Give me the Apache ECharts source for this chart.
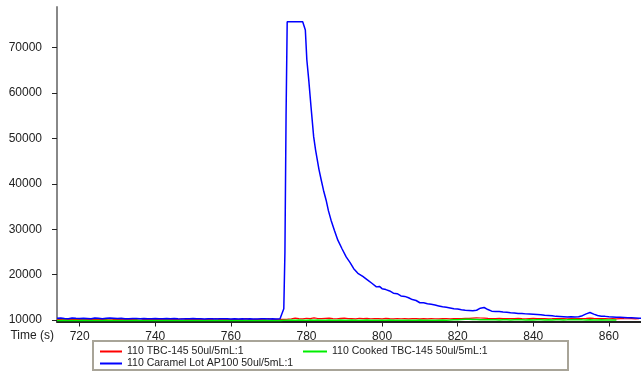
<!DOCTYPE html>
<html><head><meta charset="utf-8">
<script src="https://cdn.jsdelivr.net/npm/echarts@6/dist/echarts.min.js"></script>
<style>html,body{margin:0;padding:0;background:#fff}#c{width:641px;height:373px}</style>
</head><body><div id="c"></div>
<script>
var seriesNames = ['110 TBC-145 50ul/5mL:1', '110 Cooked TBC-145 50ul/5mL:1', '110 Caramel Lot AP100 50ul/5mL:1'];
var xTicks = [720, 740, 760, 780, 800, 820, 840, 860];
var yTicks = [10000, 20000, 30000, 40000, 50000, 60000, 70000];

var time = [714,715,716,717,718,719,720,721,722,723,724,725,726,727,728,729,730,731,732,733,734,735,736,737,738,739,740,741,742,743,744,745,746,747,748,749,750,751,752,753,754,755,756,757,758,759,760,761,762,763,764,765,766,767,768,769,770,771,772,773,774,775,776,777,778,779,780,781,782,783,784,785,786,787,788,789,790,791,792,793,794,795,796,797,798,799,800,801,802,803,804,805,806,807,808,809,810,811,812,813,814,815,816,817,818,819,820,821,822,823,824,825,826,827,828,829,830,831,832,833,834,835,836,837,838,839,840,841,842,843,844,845,846,847,848,849,850,851,852,853,854,855,856,857,858,859,860,861,862,863,864,865,866,867,868];

var redValues = [10100,10150,10080,10120,10200,10090,10110,10160,10070,10130,10180,10100,10090,10140,10250,10110,10080,10130,10100,10170,10090,10120,10300,10100,10140,10080,10110,10190,10090,10130,10150,10100,10080,10270,10120,10090,10140,10110,10180,10080,10130,10100,10320,10090,10140,10110,10080,10150,10100,10130,10290,10090,10120,10160,10100,10130,10310,10110,10150,10120,10140,10200,10280,10420,10300,10250,10380,10290,10450,10330,10300,10360,10420,10310,10280,10350,10400,10300,10330,10260,10380,10300,10350,10280,10330,10290,10250,10340,10300,10270,10330,10280,10300,10260,10310,10290,10250,10320,10270,10300,10280,10260,10310,10290,10270,10300,10330,10300,10350,10380,10420,10460,10440,10400,10360,10330,10310,10360,10300,10330,10290,10320,10350,10300,10280,10310,10340,10290,10300,10320,10280,10300,10330,10290,10310,10280,10320,10300,10290,10330,10360,10400,10350,10310,10290,10320,10280,10300,10270,10310,10290,10280,10300,10270,10290];

var greenValues = [9900,9880,9920,9890,9910,9870,9900,9930,9890,9880,9910,9900,9870,9920,9890,9900,9880,9910,9890,9870,9900,9920,9880,9890,9910,9870,9900,9890,9880,9920,9900,9870,9890,9910,9880,9900,9890,9870,9910,9900,9880,9890,9920,9870,9900,9890,9910,9880,9900,9870,9890,9910,9880,9900,9890,9920,9880,9900,9890,9910,9930,9950,9980,9960,10000,9970,9950,9990,9960,9980,9950,9970,10000,9960,9940,9980,9960,9950,9990,9960,9970,9940,9980,9960,9950,9970,9940,9960,9980,9950,9960,9940,9970,9950,9960,9940,9980,9950,9960,9970,9940,9960,9980,9970,10000,10050,10080,10120,10150,10170,10130,10100,10060,10040,10080,10030,10050,10020,10060,10040,10010,10050,10030,10060,10020,10040,10010,10030,10050,10020,10040,10000,10030,10050,10020,10040,10070,10100,10060,10030,10010,10040,10000,10020,10030,9990,10020,10000,10010];

var blueTime = [714,715,716,717,718,719,720,721,722,723,724,725,726,727,728,729,730,731,732,733,734,735,736,737,738,739,740,741,742,743,744,745,746,747,748,749,750,751,752,753,754,755,756,757,758,759,760,761,762,763,764,765,766,767,768,769,770,771,772,773,773.5,774,774.3,774.6,774.9,776,777,778,779,779.5,779.7,780.1,780.6,781.2,781.9,782.4,783.3,783.9,784.5,785.2,785.8,786.5,787.4,788.3,789.4,790.5,791.5,792.5,793.6,794.9,796.2,797.3,798.5,799.3,800,800.5,801,801.5,802,802.5,803,803.5,804,804.5,805,805.5,806,806.5,807,807.5,808,808.5,809,809.5,810,810.5,811,811.5,812,812.5,813,813.5,814,814.5,815,815.5,816,816.5,817,817.5,818,818.5,819,819.5,820,820.5,821,821.5,822,822.5,823,823.5,824,824.5,825,825.5,826,826.5,827,827.5,828,828.5,829,829.5,830,830.5,831,831.5,832,832.5,833,833.5,834,834.5,835,835.5,836,836.5,837,837.5,838,838.5,839,839.5,840,840.5,841,841.5,842,842.5,843,843.5,844,844.5,845,845.5,846,846.5,847,847.5,848,848.5,849,849.5,850,850.5,851,851.5,852,852.5,853,853.5,854,854.5,855,855.5,856,856.5,857,857.5,858,858.5,859,859.5,860,860.5,861,861.5,862,862.5,863,863.5,864,864.5,865,865.5,866,866.5,867,867.5,868,868.5];

var blueValues = [10380,10420,10350,10300,10450,10380,10320,10400,10350,10280,10420,10360,10300,10380,10450,10400,10330,10370,10300,10280,10350,10320,10280,10340,10300,10260,10320,10290,10250,10310,10280,10330,10270,10240,10300,10260,10310,10250,10280,10230,10290,10260,10220,10280,10250,10300,10240,10270,10220,10260,10230,10280,10240,10210,10270,10250,10220,10260,10240,10300,10600,12500,25000,55000,75730,75730,75730,75730,75730,75730,73900,67300,62900,57000,50400,47500,43200,40850,38600,36400,34100,32000,29700,27600,25700,23900,22700,21300,20300,19600,18800,18100,17300,17400,16900,16500,16700,16300,16400,16000,15900,15600,15800,15400,15300,15100,15200,14800,14900,14600,14500,14200,14300,13900,13800,13600,13800,13500,13600,13300,13450,13200,13300,13050,13100,12850,12900,12700,12800,12550,12650,12450,12500,12300,12400,12200,12250,12100,12150,12000,12100,11950,12050,12000,12150,12350,12600,12850,12750,12500,12300,12050,11950,11800,11900,11750,11850,11650,11750,11600,11700,11500,11600,11400,11550,11350,11450,11300,11450,11250,11350,11200,11300,11150,11250,11100,11200,11050,11150,11000,11050,10900,11000,10850,10950,10900,10800,10950,10750,10850,10700,10800,10650,10800,10700,10750,10650,10800,10700,10850,10950,11150,11350,11550,11650,11450,11300,11100,11000,10900,10850,10750,10800,10650,10700,10600,10650,10550,10600,10500,10600,10450,10550,10420,10500,10400,10480,10380,10450,10350,10400,10370];

function pairs(xs, ys) { var out = []; for (var i = 0; i < xs.length; i++) out.push([xs[i], ys[i]]); return out; }

var font = 'Liberation Sans';
var legendText = { fontFamily: font, fontSize: 10.5, color: '#222' };
var chart = echarts.init(document.getElementById('c'));
chart.setOption({
  animation: false,
  backgroundColor: '#ffffff',
  textStyle: { fontFamily: font },
  grid: { left: 57, right: 0, top: 7, bottom: 51.5 },
  xAxis: {
    type: 'value', min: 714, max: 868.5,
    name: 'Time (s)', nameLocation: 'start', nameGap: 3,
    nameTextStyle: { fontFamily: font, fontSize: 12, color: '#222', verticalAlign: 'top', padding: [8, 0, 0, 0] },
    axisLine: { onZero: false, lineStyle: { color: '#222', width: 2 } },
    axisTick: { show: true, length: 5, customValues: xTicks, lineStyle: { color: '#222' } },
    axisLabel: { customValues: xTicks, margin: 9, fontFamily: font, fontSize: 12, color: '#222' },
    splitLine: { show: false }
  },
  yAxis: {
    type: 'value', min: 9670, max: 78970,
    axisLine: { show: true, onZero: false, lineStyle: { color: '#888', width: 2 } },
    axisTick: { show: true, length: 5, customValues: yTicks, lineStyle: { color: '#222' } },
    axisLabel: { customValues: yTicks, margin: 15, fontFamily: font, fontSize: 12, color: '#222', formatter: function (v) { return String(v); } },
    splitLine: { show: false }
  },
  legend: [
    { left: 100, top: 346, padding: 0, itemWidth: 22, itemHeight: 2, itemGap: 0, icon: 'rect', data: [seriesNames[0]], textStyle: legendText },
    { left: 303, top: 346, padding: 0, itemWidth: 24, itemHeight: 2, itemGap: 0, icon: 'rect', data: [seriesNames[1]], textStyle: legendText },
    { left: 100, top: 358, padding: 0, itemWidth: 22, itemHeight: 2, itemGap: 0, icon: 'rect', data: [seriesNames[2]], textStyle: legendText }
  ],
  graphic: [
    { type: 'rect', shape: { x: 93, y: 341, width: 475, height: 29 }, style: { fill: 'none', stroke: '#a8a498', lineWidth: 2 }, z: 0 }
  ],
  series: [
    { name: seriesNames[0], type: 'line', showSymbol: false, color: '#ff0000', lineStyle: { width: 1.2, color: '#ff0000' }, data: pairs(time, redValues), z: 2 },
    { name: seriesNames[1], type: 'line', showSymbol: false, color: '#00ee00', lineStyle: { width: 1.5, color: '#00ee00' }, data: pairs(time, greenValues), z: 3 },
    { name: seriesNames[2], type: 'line', showSymbol: false, color: '#0000ff', lineStyle: { width: 1.5, color: '#0000ff' }, data: pairs(blueTime, blueValues), z: 4 }
  ]
});
</script></body></html>
